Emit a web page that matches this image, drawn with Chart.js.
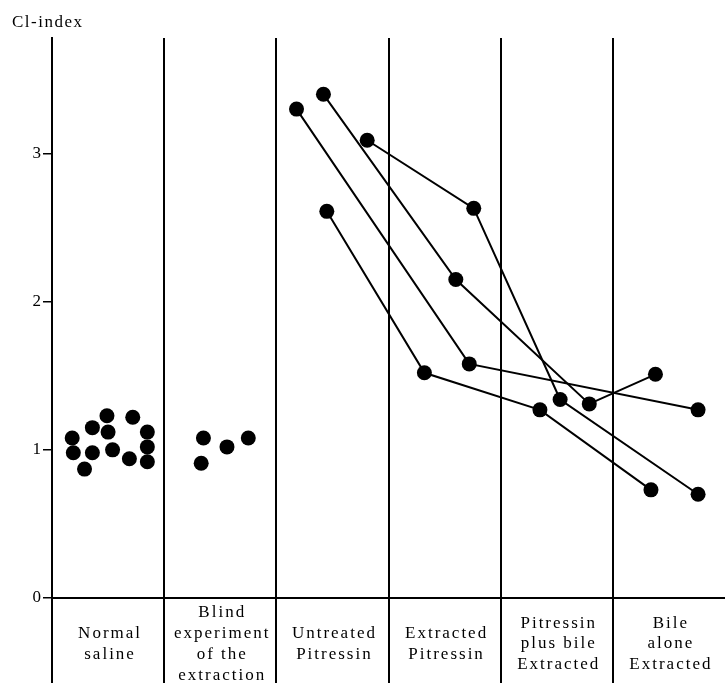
<!DOCTYPE html>
<html>
<head>
<meta charset="utf-8">
<script src="https://cdn.jsdelivr.net/npm/chart.js@4.4.1/dist/chart.umd.min.js"></script>
<style>
  html, body { margin: 0; padding: 0; background: #fff; overflow: hidden; }
  #wrap { width: 725px; height: 685px; position: relative; }
  canvas { display: block; }
</style>
</head>
<body>
<div id="wrap"><canvas id="myChart"></canvas></div>
<script>
// column labels (one column per group)
const categories = [
    ['Normal', 'saline'],
    ['Blind', 'experiment', 'of the', 'extraction'],
    ['Untreated', 'Pitressin'],
    ['Extracted', 'Pitressin'],
    ['Pitressin', 'plus bile', 'Extracted'],
    ['Bile', 'alone', 'Extracted']
];
const yTicks = [0, 1, 2, 3];

// single determinations, x = position inside the column (column i spans i..i+1)
const salineX = [0.18, 0.19, 0.29, 0.36, 0.36, 0.49, 0.50, 0.54, 0.69, 0.72, 0.85, 0.85, 0.85];
const salineY = [1.08, 0.98, 0.87, 1.15, 0.98, 1.23, 1.12, 1.00, 0.94, 1.22, 1.12, 1.02, 0.92];
const blindX = [1.35, 1.33, 1.56, 1.75];
const blindY = [1.08, 0.91, 1.02, 1.08];

// followed experiments: untreated -> extracted -> pitressin+bile -> bile alone
const expAx = [2.42, 3.60, 4.79, 5.38];
const expAy = [3.40, 2.15, 1.31, 1.51];
const expBx = [2.81, 3.76, 4.53, 5.76];
const expBy = [3.09, 2.63, 1.34, 0.70];
const expCx = [2.18, 3.72, null, 5.76];
const expCy = [3.30, 1.58, null, 1.27];
const expDx = [2.45, 3.32, 4.35, 5.34];
const expDy = [2.61, 1.52, 1.27, 0.73];

const FONT = '"Liberation Serif", "Times New Roman", serif';

const toPoints = (xs, ys) => xs.map((x, i) => ({x, y: ys[i]})).filter(p => p.x !== null && p.y !== null);

const dot = {
    pointRadius: 7.5,
    pointHoverRadius: 7.5,
    pointBackgroundColor: '#000',
    pointBorderColor: '#000',
    pointBorderWidth: 0,
    borderColor: '#000',
    borderWidth: 2
};

const labelsPlugin = {
    id: 'labels',
    afterDraw(chart) {
        const ctx = chart.ctx;
        const xs = chart.scales.x;
        ctx.save();
        ctx.fillStyle = '#000';
        ctx.font = '17px ' + FONT;
        ctx.letterSpacing = '1.5px';
        ctx.textAlign = 'left';
        ctx.textBaseline = 'alphabetic';
        ctx.fillText('Cl-index', 12, 27);

        ctx.letterSpacing = '2px';
        ctx.textAlign = 'center';
        ctx.textBaseline = 'middle';
        const lineH = 20.8;
        const midY = 644;
        categories.forEach((lines, i) => {
            const cx = xs.getPixelForValue(i + 0.5) + 2;
            const y0 = midY - (lines.length - 1) * lineH / 2;
            lines.forEach((t, k) => ctx.fillText(t, cx, y0 + k * lineH));
        });
        ctx.restore();
    }
};

const ctx = document.getElementById('myChart').getContext('2d');
const myChart = new Chart(ctx, {
    type: 'scatter',
    data: {
        datasets: [
            {data: toPoints(salineX, salineY), showLine: false, ...dot},
            {data: toPoints(blindX, blindY), showLine: false, ...dot},
            {data: toPoints(expAx, expAy), showLine: true, ...dot},
            {data: toPoints(expBx, expBy), showLine: true, ...dot},
            {data: toPoints(expCx, expCy), showLine: true, ...dot},
            {data: toPoints(expDx, expDy), showLine: true, ...dot}
        ]
    },
    options: {
        responsive: true,
        maintainAspectRatio: false,
        animation: false,
        layout: {autoPadding: false, padding: {top: 38, left: 0, right: 0, bottom: 0}},
        plugins: {
            legend: {display: false},
            tooltip: {enabled: false}
        },
        scales: {
            x: {
                type: 'linear',
                min: 0,
                max: categories.length,
                ticks: {display: false, stepSize: 1},
                grid: {
                    color: c => c.tick && c.tick.value === categories.length ? 'rgba(0,0,0,0)' : '#000',
                    lineWidth: 2,
                    drawTicks: true,
                    tickLength: 85
                },
                border: {display: true, color: '#000', width: 2},
                afterFit: s => { s.height = 87; }
            },
            y: {
                min: 0,
                max: 3.78,
                afterBuildTicks: s => { s.ticks = yTicks.map(v => ({value: v})); },
                ticks: {
                    color: '#000',
                    font: {family: FONT, size: 17},
                    padding: 2
                },
                grid: {
                    drawOnChartArea: false,
                    drawTicks: true,
                    tickLength: 9,
                    color: '#000',
                    lineWidth: 1.5
                },
                border: {display: true, color: '#000', width: 2},
                afterFit: s => { s.width = 52; }
            }
        }
    },
    plugins: [labelsPlugin]
});
</script>
</body>
</html>
